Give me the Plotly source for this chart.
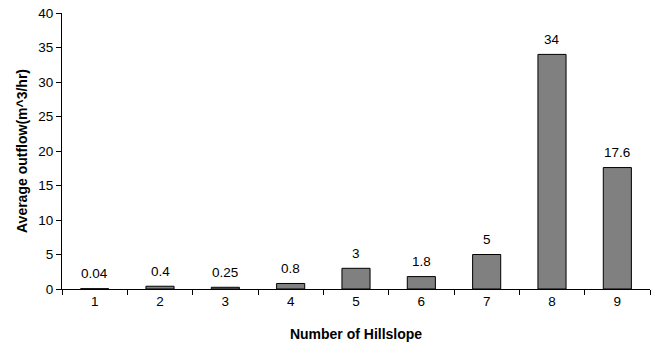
import plotly.graph_objects as go

hillslopes = ["1", "2", "3", "4", "5", "6", "7", "8", "9"]
outflow = [0.04, 0.4, 0.25, 0.8, 3, 1.8, 5, 34, 17.6]
labels = ["0.04", "0.4", "0.25", "0.8", "3", "1.8", "5", "34", "17.6"]

fig = go.Figure()
fig.add_trace(go.Bar(
    x=hillslopes, y=outflow,
    marker=dict(color="#808080", line=dict(color="#000000", width=1)),
    width=0.43,
))
for i, (v, t) in enumerate(zip(outflow, labels)):
    fig.add_annotation(x=i, y=v, text=t, showarrow=False, yshift=15,
                       font=dict(family="Liberation Sans, Arial", size=13.5, color="#000"))

fig.update_layout(
    width=656, height=346,
    margin=dict(l=62, r=6, t=13, b=57),
    plot_bgcolor="white", paper_bgcolor="white",
    showlegend=False,
    font=dict(family="Liberation Sans, Arial", size=13.5, color="#000"),
    xaxis=dict(
        type="category", range=[-0.5, 8.5], showline=True, linecolor="#000", linewidth=1,
        ticks="outside", tickson="boundaries", ticklen=5, tickcolor="#000",
        showgrid=False,
        title=dict(text="<b>Number of Hillslope</b>", font=dict(size=14), standoff=20),
        tickfont=dict(size=13.5),
    ),
    yaxis=dict(
        range=[0, 40], dtick=5, showline=True, linecolor="#000", linewidth=1,
        ticks="outside", ticklen=5, tickcolor="#000", showgrid=False, zeroline=False,
        title=dict(text="<b>Average outflow(m^3/hr)</b>", font=dict(size=14), standoff=7),
        tickfont=dict(size=13.5),
    ),
)
fig.write_html("out.html")
